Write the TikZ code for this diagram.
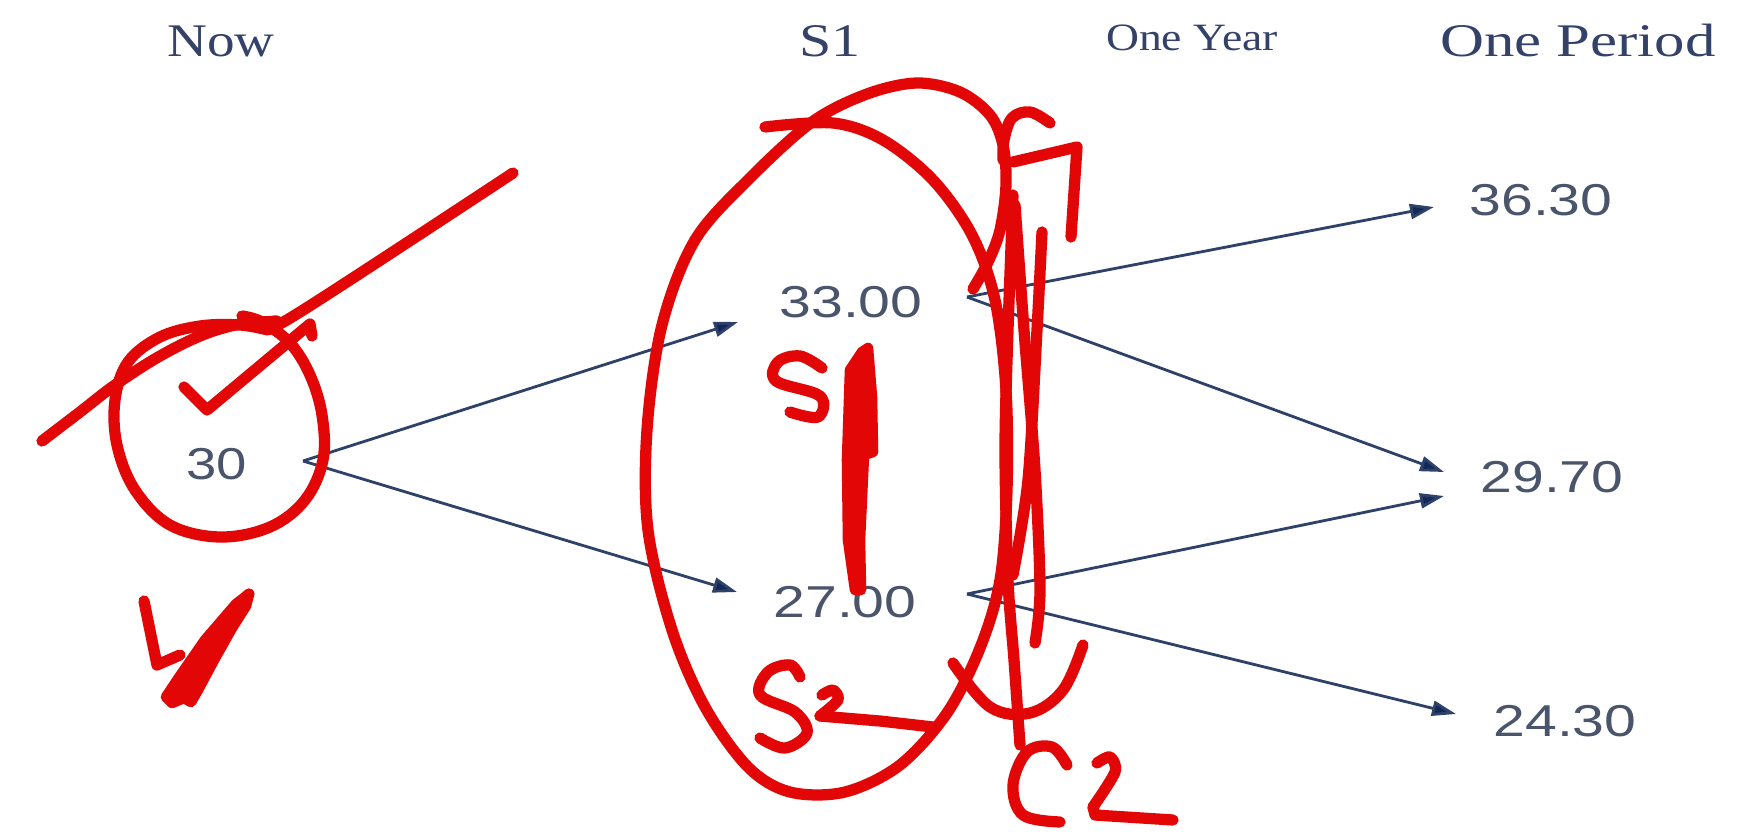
\documentclass[tikz,border=0pt]{standalone}
\usepackage{graphicx}
\usepackage{fontspec}
\setmainfont{Liberation Serif}
\newfontfamily\numfont{Liberation Sans}
\usetikzlibrary{arrows.meta}
\definecolor{hdrc}{HTML}{34426A}
\definecolor{numc}{HTML}{4A556B}
\definecolor{arrc}{HTML}{2E4168}
\definecolor{tipc}{HTML}{12285A}
\definecolor{redink}{RGB}{226,6,6}
\tikzset{
  hdrtext/.style={anchor=base, inner sep=0pt, text=hdrc, font=\fontsize{13.3}{15}\selectfont},
  yeartext/.style={anchor=base, inner sep=0pt, text=hdrc, font=\fontsize{11}{13}\selectfont},
  numtext/.style={anchor=base, inner sep=0pt, text=numc, font=\numfont\fontsize{12.7}{14}\selectfont},
  link/.style={draw=arrc, line width=0.8pt, -{Triangle[length=0.24cm,width=0.15cm,fill=tipc]}},
  redmark/.style={draw=redink, line width=3.2pt, line cap=round, line join=round},
}
\begin{document}
\begin{tikzpicture}[x=0.01cm, y=-0.01cm]
\fill[white] (0,0) rectangle (1747,836);
\useasboundingbox (0,0) rectangle (1747,836);

% headers
\node[hdrtext] (hnow) at (221,56) {\scalebox{1.18}[1]{Now}};
\node[hdrtext] (hs1) at (830,56) {\scalebox{1.24}[1]{S1}};
\node[yeartext] (hyear) at (1192,50) {\scalebox{1.18}[1]{One Year}};
\node[hdrtext] (hper) at (1578,56) {\scalebox{1.3}[1]{One Period}};

% values
\node[numtext] (n30) at (217,479) {\scalebox{1.22}[1]{30}};
\node[numtext] (n33) at (851,317) {\scalebox{1.28}[1]{33.00}};
\node[numtext] (n27) at (845,617) {\scalebox{1.28}[1]{27.00}};
\node[numtext] (n36) at (1541,215) {\scalebox{1.28}[1]{36.30}};
\node[numtext] (n29) at (1552,492) {\scalebox{1.28}[1]{29.70}};
\node[numtext] (n24) at (1565,736) {\scalebox{1.28}[1]{24.30}};

% connector ends
\coordinate (o30) at (303,461);
\coordinate (i33) at (738,322);
\coordinate (i27) at (737,592);
\coordinate (o33) at (967,297);
\coordinate (o27) at (967,594);
\coordinate (i36) at (1434,207);
\coordinate (i29a) at (1444,472);
\coordinate (i29b) at (1444,496);
\coordinate (i24) at (1456,714);

\draw[link] (o30) -- (i33);
\draw[link] (o30) -- (i27);
\draw[link] (o33) -- (i36);
\draw[link] (o33) -- (i29a);
\draw[link] (o27) -- (i29b);
\draw[link] (o27) -- (i24);

% ---- red hand annotations ----
% long stroke over the circle
\draw[redmark] plot[smooth, tension=0.6] coordinates {(42,441) (80,412) (115,385) (160,356) (205,334) (245,323) (275,321) (300,312) (513,173)};
% circle round 30
\draw[redmark] plot[smooth, tension=0.6] coordinates {(268,330) (240,325) (200,326) (160,337) (128,362) (115,400) (117,445) (135,490) (170,525) (220,537) (270,527) (305,500) (323,460) (322,415) (310,375) (290,343) (262,322) (242,316)};
% check mark
\draw[redmark] (184,387) -- (207,410) -- (310,324) -- (312,336);
% "4" scribble below
\draw[redmark] (144,601) -- (157,665) -- (180,655);
\filldraw[redink, draw=redink, line width=3pt, line join=round] (249,594) -- (236,604) -- (205,640) -- (180,676) -- (166,697) -- (172,703) -- (184,698) -- (191,702) -- (198,690) -- (214,660) -- (232,628) -- (246,606) -- cycle;
\draw[redmark] plot[smooth] coordinates {(249,594) (205,648) (168,697)};
\draw[redmark] plot[smooth] coordinates {(246,600) (212,660) (191,701)};

% big ellipse round S1 column
\draw[redmark] plot[smooth, tension=0.55] coordinates {(765,127) (833,123) (883,140) (933,180) (972,235) (995,300) (1006,390) (1007,490) (1000,580) (980,648) (947,713) (900,765) (845,792) (790,792) (748,767) (705,707) (672,630) (648,530) (647,430) (662,325) (695,240) (750,178) (812,122) (867,94) (917,83) (960,92) (990,115) (1003,145) (1006,185) (1000,230) (988,262) (973,289)};
% vertical scribble
\draw[redmark] plot[smooth, tension=0.5] coordinates {(1013,195) (1008,330) (1005,450) (1008,580) (1014,660) (1020,745)};
\draw[redmark] plot[smooth, tension=0.5] coordinates {(1015,205) (1024,330) (1035,470) (1040,590) (1035,643)};
\draw[redmark] plot[smooth, tension=0.5] coordinates {(1042,232) (1037,330) (1028,480) (1013,575)};
% C1
\draw[redmark] plot[smooth, tension=0.6] coordinates {(1050,123) (1030,112) (1012,118) (1004,140) (1003,160)};
\draw[redmark] (1013,162) -- (1077,147) -- (1071,237);
% lower arc
\draw[redmark] plot[smooth, tension=0.6] coordinates {(1083,645) (1063,690) (1030,713) (990,707) (953,663)};
% C2
\draw[redmark] plot[smooth, tension=0.6] coordinates {(1067,765) (1052,747) (1027,752) (1013,785) (1023,815) (1060,822)};
\draw[redmark] plot[smooth, tension=0.5] coordinates {(1097,763) (1110,757) (1115,772) (1093,807)};
\draw[redmark] (1093,807) -- (1095,815) -- (1173,820);
% S1 inside ellipse
\draw[redmark] plot[smooth, tension=0.6] coordinates {(822,368) (800,356) (778,362) (776,381) (820,396) (818,417) (790,412)};
\filldraw[redink, draw=redink, line width=3pt, line join=round] (862,352) -- (868,348) -- (872,397) -- (873,452) -- (864,455) -- (860,540) -- (861,590) -- (855,590) -- (848,540) -- (847,460) -- (850,370) -- cycle;
% S2
\draw[redmark] plot[smooth, tension=0.6] coordinates {(800,677) (790,665) (768,672) (760,695) (795,712) (807,733) (785,748) (760,738)};
\draw[redmark] plot[smooth, tension=0.5] coordinates {(822,695) (833,690) (838,700) (820,716)};
\draw[redmark] (820,716) -- (880,721) -- (933,727);
\end{tikzpicture}
\end{document}
